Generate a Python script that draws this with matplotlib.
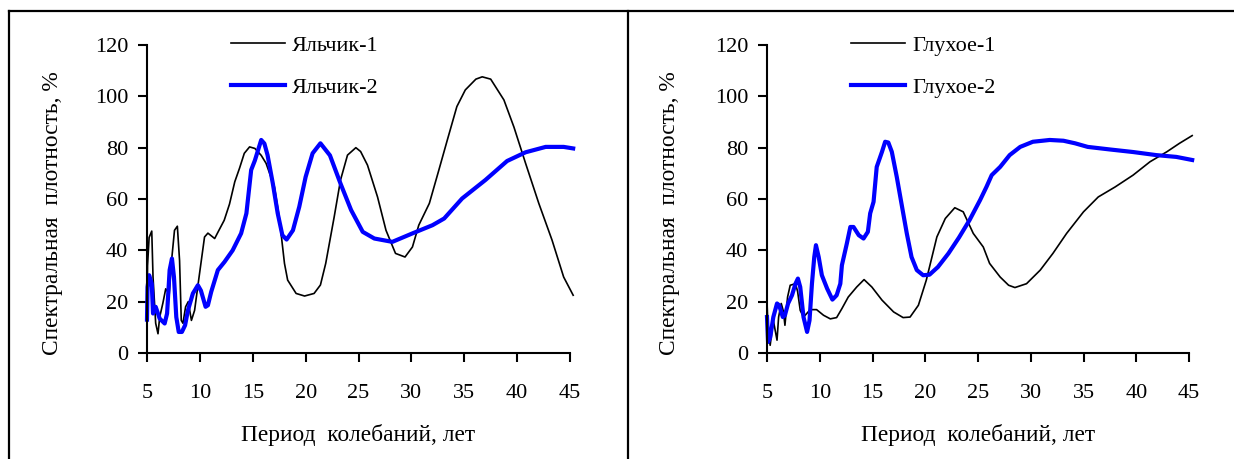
import matplotlib
matplotlib.use("Agg")
import matplotlib.pyplot as plt
from matplotlib.lines import Line2D

plt.rcParams['font.family'] = ['Liberation Serif', 'DejaVu Serif']

# Яльчик, спектральная плотность (%) по периоду колебаний (лет)
yal1_period = [5.0, 5.05, 5.2, 5.45, 5.57, 5.82, 6.04, 6.2, 6.5, 6.77, 7.1, 7.3, 7.6, 7.87,
               8.08, 8.24, 8.4, 8.65, 8.9, 9.2, 9.5, 9.97, 10.44, 10.76, 11.4, 11.7, 12.3,
               12.8, 13.3, 13.75, 14.2, 14.7, 15.2, 15.8, 16.26, 17.05, 17.5, 18.0, 18.3,
               19.1, 19.9, 20.8, 21.4, 21.9, 22.7, 23.3, 23.96, 24.75, 25.2, 25.85, 26.8,
               27.6, 28.5, 29.4, 30.1, 30.7, 31.7, 32.6, 33.4, 34.3, 35.1, 36.1, 36.7,
               37.5, 38.75, 39.7, 40.8, 42.05, 43.3, 44.4, 45.3]
yal1_density = [10, 34, 45, 47.5, 29.6, 11.6, 7.5, 14, 19.4, 25, 23, 35, 47.8, 49.4,
                36, 12.7, 11.6, 18, 20, 12.7, 16.6, 31, 45.2, 46.7, 44.6, 47, 51.7,
                58, 66.7, 72, 77.8, 80.3, 79.7, 77, 73.9, 64.7, 53, 34.9, 28.4,
                23.2, 22.2, 23.2, 26.5, 34.9, 53, 67.4, 77.1, 80, 78.5, 73.2, 60.8,
                47.8, 38.8, 37.4, 41.3, 49.8, 58.3, 71.3, 83, 96, 102.5, 106.7, 107.6,
                106.7, 98.6, 88, 73.9, 58.3, 44, 29.6, 22.5]

yal2_period = [5.0, 5.05, 5.2, 5.45, 5.57, 5.82, 6.2, 6.67, 6.9, 7.14, 7.36, 7.55, 7.77,
               8.0, 8.3, 8.6, 8.87, 9.34, 9.81, 10.1, 10.54, 10.76, 11.07, 11.7, 12.33,
               13.1, 13.9, 14.4, 14.85, 15.2, 15.8, 16.1, 16.4, 16.9, 17.36, 17.8, 18.2,
               18.8, 19.4, 20.0, 20.66, 21.4, 22.3, 23.3, 24.3, 25.4, 26.5, 28.2, 30.1,
               32.0, 33.1, 34.8, 37.0, 39.05, 40.8, 42.7, 44.4, 45.3]
yal2_density = [13, 25.7, 30.3, 27, 15.4, 18, 13.4, 11.5, 15.4, 32.3, 36.8, 29.6, 14,
                8.2, 8.2, 10.8, 16.6, 23.2, 26.4, 24.3, 18, 18.6, 23.8, 32.3, 35.5,
                40, 46.6, 54.4, 71.3, 75, 83, 81.6, 77.1, 66, 54.4, 45.9, 44.2,
                47.8, 57, 68.6, 77.8, 81.7, 77, 66, 55.7, 47.2, 44.6, 43.3, 46.6,
                49.8, 52.4, 60.2, 67.4, 74.8, 78.2, 80.3, 80.3, 79.7]

# Глухое
glu1_period = [5.0, 5.1, 5.3, 5.6, 5.95, 6.1, 6.35, 6.55, 6.7, 6.95, 7.2, 7.7, 7.9, 8.15,
               8.46, 9.1, 9.7, 10.36, 11.0, 11.6, 12.1, 12.7, 13.5, 14.2, 14.94, 15.9,
               17.0, 17.9, 18.56, 19.35, 20.1, 21.1, 21.9, 22.8, 23.6, 24.55, 25.5, 26.1,
               27.1, 27.9, 28.5, 29.6, 30.9, 32.1, 33.4, 35.0, 36.4, 38.0, 39.7, 41.3,
               42.9, 44.1, 45.3]
glu1_density = [20, 9, 3, 12.7, 5, 14, 19.3, 16.3, 10.8, 21.8, 26.4, 27, 24, 16.6,
                14, 16.9, 16.9, 14.7, 13.3, 13.8, 17.3, 21.8, 25.7, 28.6, 25.7, 20.6,
                16, 13.8, 14, 18.6, 28.4, 45.2, 52.4, 56.6, 55, 46.6, 41.3, 34.9,
                29.6, 26.4, 25.5, 27, 32.3, 38.8, 46.6, 55, 60.8, 64.7, 69.3, 74.5,
                78.4, 81.7, 84.7]

glu2_period = [5.0, 5.1, 5.3, 5.6, 5.95, 6.15, 6.5, 6.7, 7.0, 7.37, 7.7, 7.93, 8.15, 8.46,
               8.8, 9.03, 9.26, 9.48, 9.64, 9.9, 10.2, 10.7, 11.2, 11.6, 11.95, 12.1,
               12.57, 12.9, 13.2, 13.7, 14.15, 14.56, 14.78, 15.1, 15.4, 15.9, 16.2, 16.5,
               16.83, 17.3, 17.8, 18.25, 18.7, 19.2, 19.8, 20.4, 21.2, 22.2, 23.2, 24.2,
               25.2, 25.8, 26.3, 27.1, 28.0, 29.0, 30.2, 31.8, 33.1, 34.2, 35.4, 37.5,
               39.7, 41.9, 43.8, 45.3]
glu2_density = [14, 4.3, 6, 14, 19.3, 18.6, 14, 14.7, 19.3, 22.5, 27, 29, 25.7, 14,
                8.2, 12.7, 27, 37.4, 42, 37.4, 30.3, 25.1, 20.8, 22.5, 27, 34.2,
                42.7, 49.1, 49.1, 45.9, 44.6, 47.2, 54.4, 58.9, 72.5, 78.4, 82.3, 82,
                78.4, 68.6, 57, 46.6, 37.4, 32.3, 30.3, 30.5, 33.5, 38.8, 45, 51.8,
                59.6, 64.7, 69.3, 72.5, 77.1, 80.3, 82.3, 83, 82.7, 81.7, 80.3, 79.3,
                78.3, 77.1, 76.4, 75.2]

x_ticks = [5, 10, 15, 20, 25, 30, 35, 40, 45]
y_ticks = [0, 20, 40, 60, 80, 100, 120]

W, H = 1234, 459
fig = plt.figure(figsize=(W / 100, H / 100), dpi=100)

# outer frame and divider between the two charts
fig.add_artist(Line2D([9 / W, 9 / W], [0, 1 - 10.5 / H], color='black', lw=1.6))
fig.add_artist(Line2D([9 / W, 1], [1 - 10.5 / H, 1 - 10.5 / H], color='black', lw=1.6))
fig.add_artist(Line2D([628 / W, 628 / W], [0, 1 - 10.5 / H], color='black', lw=1.6))


def make_panel(left_px, right_px, s1, s2, names, ylabel_x):
    bottom = 1 - 353 / H
    top = 1 - 45 / H
    ax = fig.add_axes([left_px / W, bottom, (right_px - left_px) / W, top - bottom])
    ax.plot(s1[0], s1[1], color='black', lw=1.2, label=names[0], clip_on=False)
    ax.plot(s2[0], s2[1], color='#0000ff', lw=3.0, label=names[1], clip_on=False)
    ax.set_xlim(5, 45)
    ax.set_ylim(0, 120)
    ax.set_xticks(x_ticks)
    ax.set_yticks(y_ticks)
    for side in ['top', 'right']:
        ax.spines[side].set_visible(False)
    for side in ['left', 'bottom']:
        ax.spines[side].set_linewidth(1.5)
    ax.tick_params(axis='both', direction='out', length=6.5, width=1.5, labelsize=16)
    ax.tick_params(axis='y', pad=7)
    ax.tick_params(axis='x', pad=16)
    ax.set_xlabel('Период  колебаний, лет', fontsize=16.8, labelpad=15)
    fig.text(ylabel_x / W, 1 - 213 / H, 'Спектральная  плотность, %', rotation=90,
             ha='center', va='center', fontsize=16.8)
    ax.legend(loc='upper left', bbox_to_anchor=(left_px / W + 84 / W, 1 - 35 / H),
              bbox_transform=fig.transFigure, frameon=False, fontsize=16,
              handlelength=2.45, handletextpad=0.3, labelspacing=0.98, borderpad=0,
              borderaxespad=0)
    return ax


make_panel(147, 570, (yal1_period, yal1_density), (yal2_period, yal2_density),
           ['Яльчик-1', 'Яльчик-2'], 53)
make_panel(767, 1189, (glu1_period, glu1_density), (glu2_period, glu2_density),
           ['Глухое-1', 'Глухое-2'], 670)

fig.savefig('out.png', dpi=100)
